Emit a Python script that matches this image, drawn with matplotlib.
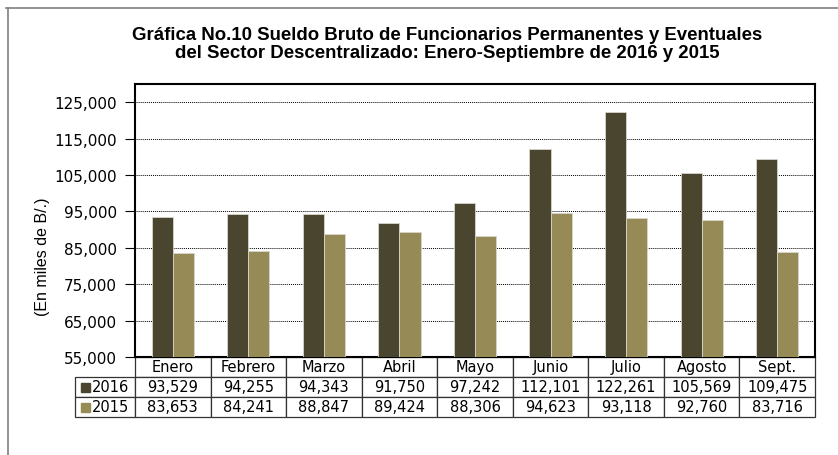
import matplotlib.pyplot as plt
from matplotlib.lines import Line2D
from matplotlib.patches import Rectangle
import numpy as np

plt.rcParams['font.family'] = ['Liberation Sans', 'DejaVu Sans']
WIDE = ['DejaVu Sans']

meses = ['Enero', 'Febrero', 'Marzo', 'Abril', 'Mayo', 'Junio', 'Julio', 'Agosto', 'Sept.']
v2016 = [93529, 94255, 94343, 91750, 97242, 112101, 122261, 105569, 109475]
v2015 = [83653, 84241, 88847, 89424, 88306, 94623, 93118, 92760, 83716]
series = ['2016', '2015']
yticks = [55000, 65000, 75000, 85000, 95000, 105000, 115000, 125000]

C16 = '#4a452e'
C15 = '#968b57'

fig = plt.figure(figsize=(8.38, 4.56), dpi=100)
W, H = 838, 456

# outer frame (only top and left edges visible)
fig.add_artist(Line2D([6 / W, 1], [1 - 9 / H, 1 - 9 / H], color='#808080', lw=1.2))
fig.add_artist(Line2D([8 / W, 8 / W], [0, 1 - 9 / H], color='#808080', lw=1.2))

fig.text(447 / W, 1 - 36 / H, 'Gráfica No.10 Sueldo Bruto de Funcionarios Permanentes y Eventuales',
         ha='center', va='center', fontsize=13.4, fontweight='bold')
fig.text(447 / W, 1 - 53 / H, 'del Sector Descentralizado: Enero-Septiembre de 2016 y 2015',
         ha='center', va='center', fontsize=13.4, fontweight='bold')

left, right, top, bottom = 135, 815, 85, 358
ax = fig.add_axes([left / W, 1 - bottom / H, (right - left) / W, (bottom - top) / H])

x = np.arange(len(meses))
bw = 0.28
ax.bar(x - bw / 2, v2016, bw, color=C16, edgecolor='#d8d6cc', linewidth=0.6, zorder=3)
ax.bar(x + bw / 2, v2015, bw, color=C15, edgecolor='#d8d6cc', linewidth=0.6, zorder=3)

ax.set_xlim(-0.5, len(meses) - 0.5)
ax.set_ylim(55000, 130000)
ax.set_yticks(yticks)
ax.set_yticklabels([f'{v:,}' for v in yticks], fontsize=11, family=WIDE)
ax.set_xticks([])
ax.tick_params(axis='y', direction='out', length=7, width=0.8, pad=6)
for v in yticks[1:]:
    ax.axhline(v, color='black', lw=0.7, ls=(0, (1, 1)), zorder=1)
for s in ax.spines.values():
    s.set_linewidth(1.5)
    s.set_color('black')

ax.set_ylabel('(En miles de B/.)', fontsize=11.5)
ax.yaxis.set_label_coords((50 - left) / (right - left), 0.37)

# data table below the plot; first column holds the series names
tab_left = 75
cw = (right - left) / len(meses)
lab_w = left - tab_left
row_h = 20
cell_text = [[name] + [f'{v:,}' for v in vals] for name, vals in zip(series, [v2016, v2015])]
tbl = ax.table(cellText=cell_text, colLabels=[''] + meses,
               colWidths=[lab_w] + [cw] * len(meses), cellLoc='center',
               bbox=[(tab_left - left) / (right - left), -3 * row_h / (bottom - top),
                     (right - tab_left) / (right - left), 3 * row_h / (bottom - top)])
tbl.auto_set_font_size(False)
tbl.set_fontsize(10.5)
for (r, c), cell in tbl.get_celld().items():
    cell.set_linewidth(0.9)
    cell.set_edgecolor('#333333')
    cell.get_text().set_family(WIDE)
    cell.PAD = 0.04
    if c == 0:
        if r == 0:
            cell.set_visible(False)
        else:
            cell._loc = 'right'
            cell.get_text().set_horizontalalignment('right')
            cell.PAD = 0.1

# legend squares inside the row label cells
for i, col in enumerate([C16, C15]):
    yc = 1 - (388 + 20 * i) / H
    fig.add_artist(Rectangle((81 / W, yc - 4.5 / H), 9 / W, 9 / H, color=col,
                             transform=fig.transFigure))

fig.savefig('out.png', dpi=100)
